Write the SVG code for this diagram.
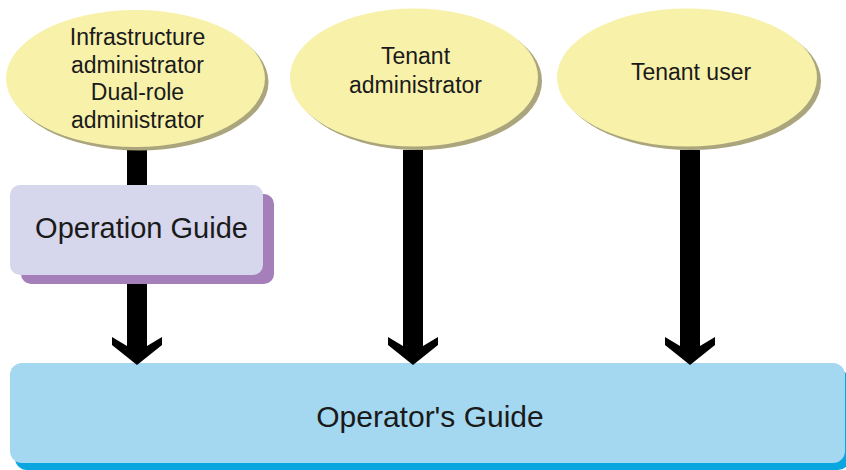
<svg xmlns="http://www.w3.org/2000/svg" width="846" height="470" viewBox="0 0 846 470">
<defs>
<style>
.t{font-family:"Liberation Sans",Arial,sans-serif;fill:#1a1a1a;text-anchor:middle}
.es{fill:#aaa57c}
.ef{fill:#f7f1aa}
.arr{fill:#000}
</style>
<polygon id="ah" points="-10,-215 10,-215 10,-19 25,-28 25,-20 0,0 -25,-20 -25,-28 -10,-19"/>
</defs>
<rect width="846" height="470" fill="#fff"/>
<g id="operators-guide">
<rect x="15" y="370" width="835" height="100" rx="12" fill="#0aa6e0"/>
<rect x="10" y="363" width="835" height="100" rx="12" fill="#a4d8f0"/>
<text class="t" x="430" y="427" font-size="30">Operator's Guide</text>
</g>
<g id="connectors">
<use href="#ah" class="arr" x="137" y="365"/>
<use href="#ah" class="arr" x="413" y="365"/>
<use href="#ah" class="arr" x="690" y="365"/>
</g>
<g id="infra-admin">
<ellipse class="es" cx="139" cy="82" rx="129.5" ry="68.5"/>
<ellipse class="ef" cx="135.5" cy="78.5" rx="129.5" ry="68.5"/>
<text class="t" x="137.5" y="45" font-size="23">Infrastructure</text>
<text class="t" x="137.5" y="73" font-size="23">administrator</text>
<text class="t" x="137.5" y="100" font-size="23">Dual-role</text>
<text class="t" x="137.5" y="128" font-size="23">administrator</text>
</g>
<g id="tenant-admin">
<ellipse class="es" cx="418" cy="81" rx="124" ry="69"/>
<ellipse class="ef" cx="414" cy="77.5" rx="124" ry="69"/>
<text class="t" x="415.5" y="64" font-size="23">Tenant</text>
<text class="t" x="415.5" y="93" font-size="23">administrator</text>
</g>
<g id="tenant-user">
<ellipse class="es" cx="691" cy="81" rx="130" ry="69"/>
<ellipse class="ef" cx="687" cy="77.5" rx="130" ry="69"/>
<text class="t" x="691" y="80" font-size="23">Tenant user</text>
</g>
<g id="operation-guide">
<rect x="21" y="194" width="253" height="90" rx="10" fill="#a57fb9"/>
<rect x="10" y="185" width="253" height="90" rx="10" fill="#d6d6ec"/>
<text class="t" x="141.5" y="238" font-size="29">Operation Guide</text>
</g>
</svg>
